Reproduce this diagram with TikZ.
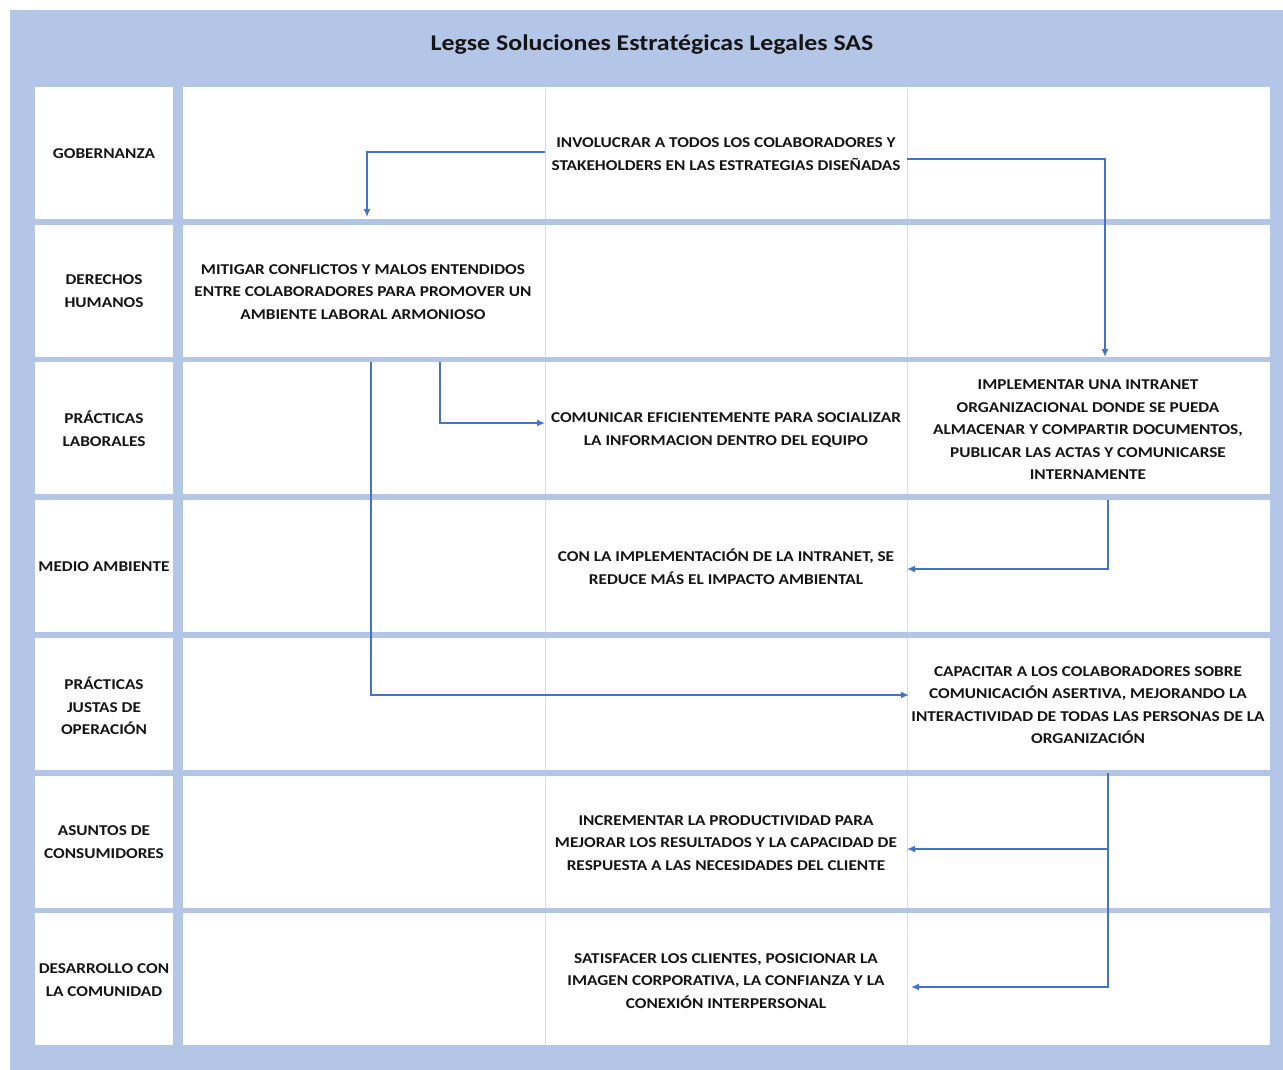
\documentclass[tikz,border=0pt]{standalone}
\usepackage{fontspec}
\setmainfont{Carlito}
\newfontfamily\widefont[FakeStretch=1.15]{Carlito}
\usetikzlibrary{arrows.meta,calc}
\definecolor{bandblue}{HTML}{B4C6E7}
\definecolor{arrowblue}{HTML}{4472C4}
\definecolor{divgray}{HTML}{DDDDDD}
\definecolor{txt}{HTML}{141414}
\begin{document}
\begin{tikzpicture}[x=1pt,y=-1pt,
  cellbox/.style={fill=white,draw=none,inner sep=0pt,outer sep=0pt,anchor=north west,minimum height=132pt},
  lbl/.style={font=\widefont\bfseries\fontsize{15}{22.5}\selectfont,align=center,text=txt,inner sep=2pt},
  flow/.style={draw=arrowblue,line width=1.5pt,-{Latex[length=8pt,width=7pt]}},
]
\useasboundingbox (0,0) rectangle (1283,1070);
\fill[bandblue] (10,10) rectangle (1283,1070);
\node[font=\widefont\bfseries\fontsize{22.5}{26}\selectfont,text=txt] (title) at (652,45) {Legse Soluciones Estratégicas Legales SAS};
\foreach \i in {0,...,6}{
  \pgfmathsetmacro\rtop{87+137.7*\i}
  \node[cellbox,minimum width=138pt] (lab\i) at (35,\rtop) {};
  \node[cellbox,minimum width=1087pt] (row\i) at (183,\rtop) {};
  \draw[divgray,line width=1pt] ($(row\i.north west)+(362,0)$) -- ($(row\i.south west)+(362,0)$);
  \draw[divgray,line width=1pt] ($(row\i.north west)+(724,0)$) -- ($(row\i.south west)+(724,0)$);
}
% row labels
\node[lbl] (l0) at (104,154) {GOBERNANZA};
\node[lbl] (l1) at (104,291) {DERECHOS\\HUMANOS};
\node[lbl] (l2) at (104,429) {PRÁCTICAS\\LABORALES};
\node[lbl] (l3) at (104,567) {MEDIO AMBIENTE};
\node[lbl] (l4) at (104,706) {PRÁCTICAS\\JUSTAS DE\\OPERACIÓN};
\node[lbl] (l5) at (104,842) {ASUNTOS DE\\CONSUMIDORES};
\node[lbl] (l6) at (104,980) {DESARROLLO CON\\LA COMUNIDAD};
% content
\node[lbl] (inv) at (726,154) {INVOLUCRAR A TODOS LOS COLABORADORES Y\\STAKEHOLDERS EN LAS ESTRATEGIAS DISEÑADAS};
\node[lbl] (mit) at (363,292) {MITIGAR CONFLICTOS Y MALOS ENTENDIDOS\\ENTRE COLABORADORES PARA PROMOVER UN\\AMBIENTE LABORAL ARMONIOSO};
\node[lbl] (com) at (726,430) {COMUNICAR EFICIENTEMENTE PARA SOCIALIZAR\\LA INFORMACION DENTRO DEL EQUIPO};
\node[lbl] (imp) at (1088,430) {IMPLEMENTAR UNA INTRANET\\ORGANIZACIONAL DONDE SE PUEDA\\ALMACENAR Y COMPARTIR DOCUMENTOS,\\PUBLICAR LAS ACTAS Y COMUNICARSE\\INTERNAMENTE};
\node[lbl] (con) at (726,567) {CON LA IMPLEMENTACIÓN DE LA INTRANET, SE\\REDUCE MÁS EL IMPACTO AMBIENTAL};
\node[lbl] (cap) at (1088,705) {CAPACITAR A LOS COLABORADORES SOBRE\\COMUNICACIÓN ASERTIVA, MEJORANDO LA\\INTERACTIVIDAD DE TODAS LAS PERSONAS DE LA\\ORGANIZACIÓN};
\node[lbl] (inc) at (726,843) {INCREMENTAR LA PRODUCTIVIDAD PARA\\MEJORAR LOS RESULTADOS Y LA CAPACIDAD DE\\RESPUESTA A LAS NECESIDADES DEL CLIENTE};
\node[lbl] (sat) at (726,981) {SATISFACER LOS CLIENTES, POSICIONAR LA\\IMAGEN CORPORATIVA, LA CONFIANZA Y LA\\CONEXIÓN INTERPERSONAL};
% connector end points
\coordinate (a1s) at (545,152); \coordinate (a1e) at (367,217);
\coordinate (a2s) at (907,159); \coordinate (a2e) at (1105,357);
\coordinate (a3s) at (440,362); \coordinate (a3e) at (545,423);
\coordinate (a4s) at (371,362); \coordinate (a4e) at (909,695);
\coordinate (a5s) at (1108,500); \coordinate (a5e) at (907,569);
\coordinate (a6s) at (1108,773); \coordinate (a6e) at (911,987);
\coordinate (a6b) at (1108,849); \coordinate (a7e) at (907,849);
\draw[flow] (a1s) -| (a1e);
\draw[flow] (a2s) -| (a2e);
\draw[flow] (a3s) |- (a3e);
\draw[flow] (a4s) |- (a4e);
\draw[flow] (a5s) |- (a5e);
\draw[flow] (a6s) |- (a6e);
\draw[flow] (a6b) -- (a7e);
\end{tikzpicture}
\end{document}
